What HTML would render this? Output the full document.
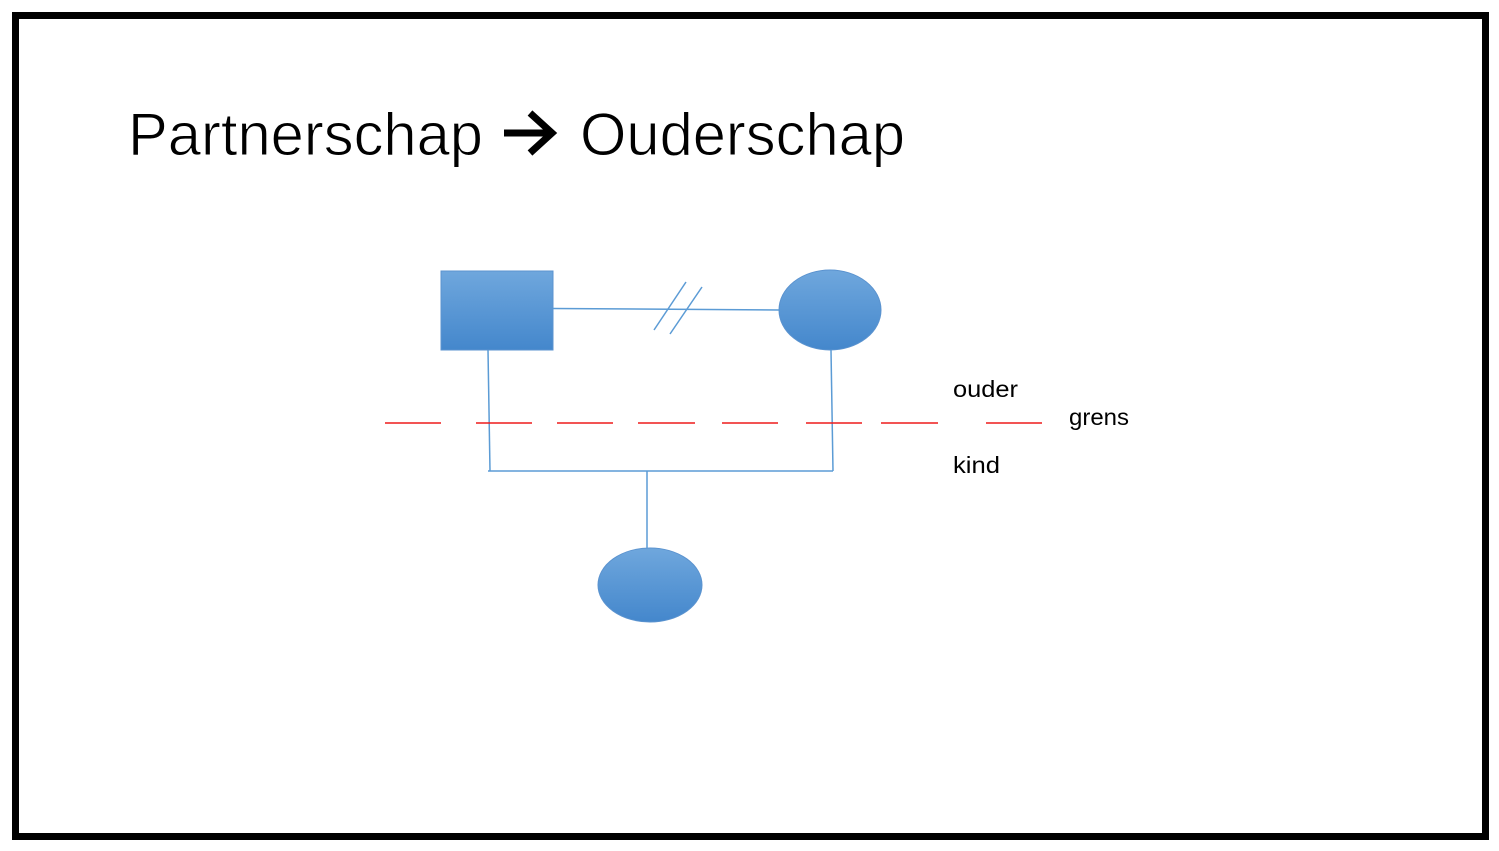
<!DOCTYPE html>
<html><head><meta charset="utf-8"><style>
html,body{margin:0;padding:0;background:#fff;width:1499px;height:851px;overflow:hidden}
</style></head><body>
<svg width="1499" height="851" viewBox="0 0 1499 851" xmlns="http://www.w3.org/2000/svg">
<defs>
<linearGradient id="g" x1="0" y1="0" x2="0" y2="1">
<stop offset="0" stop-color="#6fa7dd"/><stop offset="1" stop-color="#4487cc"/>
</linearGradient>
</defs>
<rect x="15.5" y="15.5" width="1470" height="821" fill="#fff" stroke="#000" stroke-width="7"/>
<g font-family="Liberation Sans, sans-serif" fill="#000">
<text x="128" y="155" font-size="60" stroke="#fff" stroke-width="1" paint-order="fill" textLength="355" lengthAdjust="spacingAndGlyphs">Partnerschap</text>
<text x="580" y="155" font-size="60" stroke="#fff" stroke-width="1" paint-order="fill" textLength="325" lengthAdjust="spacingAndGlyphs">Ouderschap</text>
<text x="953" y="397" font-size="23" textLength="65" lengthAdjust="spacingAndGlyphs">ouder</text>
<text x="1069" y="425" font-size="23" textLength="60" lengthAdjust="spacingAndGlyphs">grens</text>
<text x="953" y="473" font-size="23" textLength="47" lengthAdjust="spacingAndGlyphs">kind</text>
</g>
<path d="M504 133 H548 M530 113 L552 133 L530 153" fill="none" stroke="#000" stroke-width="7"/>
<rect x="441" y="271" width="112" height="79" fill="url(#g)" stroke="#5b93cf" stroke-width="1"/>
<ellipse cx="830" cy="310" rx="51" ry="40" fill="url(#g)" stroke="#5b93cf" stroke-width="1"/>
<ellipse cx="650" cy="585" rx="52" ry="37" fill="url(#g)" stroke="#5b93cf" stroke-width="1"/>
<g stroke="#5b9bd5" stroke-width="1.5" fill="none">
<line x1="553" y1="308.5" x2="779" y2="310"/>
<line x1="654" y1="330" x2="686" y2="282"/>
<line x1="670" y1="334" x2="702" y2="287"/>
<line x1="488" y1="350" x2="490" y2="471"/>
<line x1="831" y1="350" x2="833" y2="471"/>
<line x1="488" y1="471" x2="833" y2="471"/>
<line x1="647" y1="471" x2="647" y2="548"/>
</g>
<g stroke="#ee1c1c" stroke-width="1.5">
<line x1="385" y1="423" x2="441" y2="423"/>
<line x1="476" y1="423" x2="532" y2="423"/>
<line x1="557" y1="423" x2="613" y2="423"/>
<line x1="638" y1="423" x2="695" y2="423"/>
<line x1="722" y1="423" x2="778" y2="423"/>
<line x1="806" y1="423" x2="862" y2="423"/>
<line x1="881" y1="423" x2="938" y2="423"/>
<line x1="986" y1="423" x2="1042" y2="423"/>
</g>
</svg>
</body></html>
